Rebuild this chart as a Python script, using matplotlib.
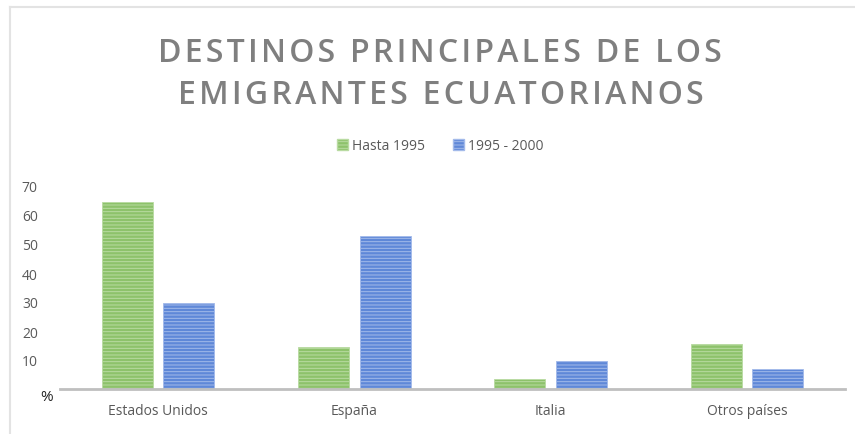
import matplotlib
matplotlib.use("Agg")
from matplotlib import pyplot as plt
from matplotlib.lines import Line2D
from matplotlib.patches import Patch
import numpy as np

plt.rcParams['font.family'] = ['Open Sans', 'DejaVu Sans']

categories = ['Estados Unidos', 'España', 'Italia', 'Otros países']
hasta1995 = [64.5, 14.5, 3.5, 15.5]
de1995a2000 = [29.7, 52.6, 9.6, 6.8]
series_names = ['Hasta 1995', '1995 - 2000']
ytick_vals = [10, 20, 30, 40, 50, 60, 70]
title_lines = ['DESTINOS PRINCIPALES DE LOS', 'EMIGRANTES ECUATORIANOS']

green = '#8DC26B'
green_hatch = '#B9DBA2'
blue = '#5F88D8'
blue_hatch = '#A3BAEA'
textgray = '#595959'


def spaced(s):
    # wide letter spacing like the original title (hair space between chars)
    return '\u200a'.join(s)


fig = plt.figure(figsize=(8.55, 4.35), dpi=100)

# light frame around the chart (left and top only are visible)
fig.add_artist(Line2D([10/855, 10/855], [0, 1 - 8/435], transform=fig.transFigure,
                      color='#E3E3E3', lw=1.5))
fig.add_artist(Line2D([10/855, 1], [1 - 8/435, 1 - 8/435], transform=fig.transFigure,
                      color='#E3E3E3', lw=1.5))

ax = fig.add_axes([60/855, 45/435, 785/855, 203/435])
plt.rcParams['hatch.linewidth'] = 0.7

x = np.arange(len(categories))
w = 0.26
off = 0.157
ax.bar(x - off, hasta1995, w, color=green, edgecolor=green_hatch, linewidth=0.6,
       hatch='-----', zorder=2)
ax.bar(x + off, de1995a2000, w, color=blue, edgecolor=blue_hatch, linewidth=0.6,
       hatch='-----', zorder=2)

ax.set_xlim(-0.5, len(categories) - 0.5)
ax.set_ylim(0, 70)
for s in ['top', 'right', 'left']:
    ax.spines[s].set_visible(False)
ax.spines['bottom'].set_color('#BFBFBF')
ax.spines['bottom'].set_linewidth(2)
ax.spines['bottom'].set_zorder(3)

ax.set_xticks(x)
ax.set_xticklabels(categories, fontsize=10, color=textgray)
ax.tick_params(axis='x', length=0, pad=10)
ax.set_yticks(ytick_vals)
ax.set_yticklabels([str(v) for v in ytick_vals], fontsize=10, color=textgray)
ax.tick_params(axis='y', length=0, pad=16)
ax.text(-0.57, -2.5, '%', fontsize=11, color='#222222', ha='center', va='center')

fig.text(0.515, 1 - 54/435, spaced(title_lines[0]),
         ha='center', va='center', fontsize=23, color='#7F7F7F', fontweight='semibold')
fig.text(0.515, 1 - 95/435, spaced(title_lines[1]),
         ha='center', va='center', fontsize=23, color='#7F7F7F', fontweight='semibold')

handles = [Patch(facecolor=green, edgecolor=green_hatch, hatch='-----'),
           Patch(facecolor=blue, edgecolor=blue_hatch, hatch='-----')]
fig.legend(handles, series_names, loc='center', bbox_to_anchor=(0.515, 1 - 147/435),
           ncol=2, frameon=False, fontsize=10, labelcolor=textgray,
           handlelength=0.8, handleheight=0.8, handletextpad=0.3, columnspacing=2.0)

fig.savefig('out.png', dpi=100)
